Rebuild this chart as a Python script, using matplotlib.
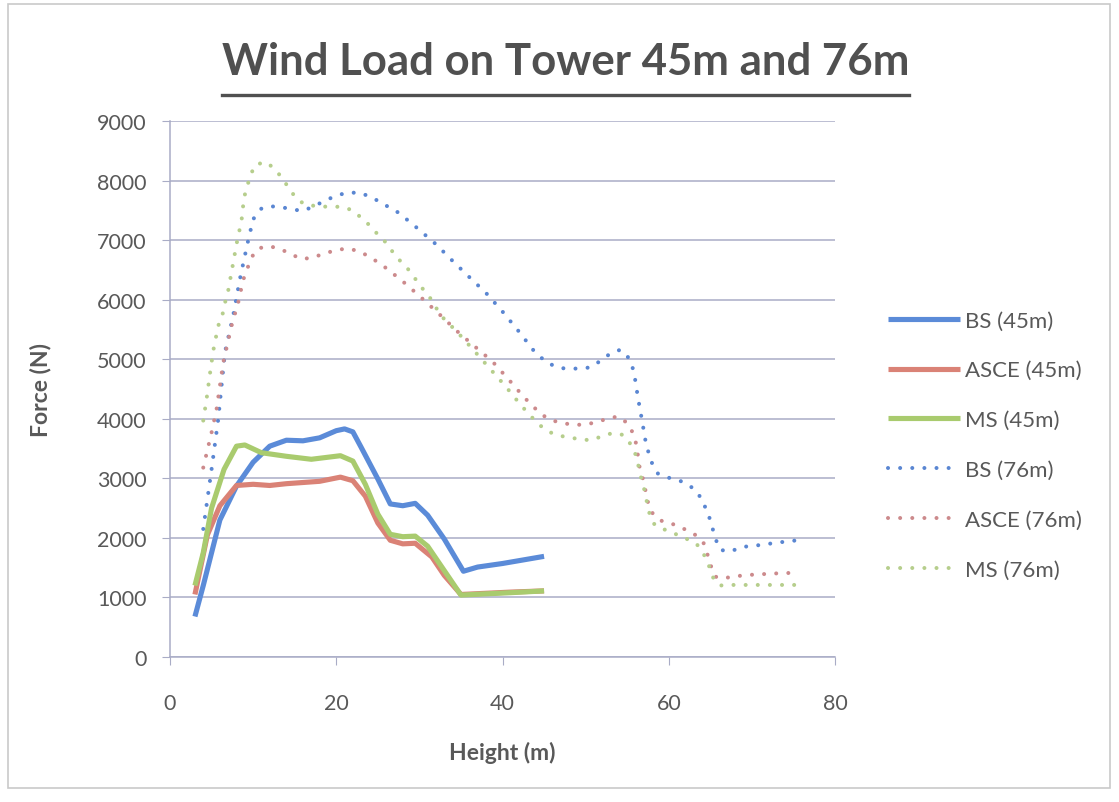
import matplotlib
matplotlib.use('Agg')
import matplotlib.pyplot as plt
from matplotlib.patches import Rectangle
from matplotlib.lines import Line2D

# dados (altura em m, forca em N)
h_bs45 = [3, 4, 5, 6, 8, 10, 12, 14, 16, 18, 20, 21, 22, 23, 25, 26.5, 28, 29.5, 31, 33, 35.3, 37, 40, 45]
f_bs45 = [680, 1200, 1750, 2300, 2870, 3270, 3540, 3640, 3630, 3680, 3800, 3830, 3780, 3520, 2990, 2570,
          2540, 2580, 2380, 1980, 1440, 1510, 1570, 1690]

h_asce45 = [3, 4.5, 6, 8, 10, 12, 14, 16, 18, 20.5, 22, 23.5, 25, 26.5, 28, 29.5, 31.5, 33, 35, 38, 41, 45]
f_asce45 = [1050, 2050, 2540, 2880, 2900, 2880, 2910, 2930, 2950, 3020, 2960, 2700, 2250, 1960, 1900, 1910,
            1680, 1370, 1050, 1070, 1090, 1110]

h_ms45 = [3, 4, 5, 6.5, 8, 9, 11, 14, 17, 20.5, 22, 23.5, 25, 26.5, 28, 29.5, 31, 33, 35, 38, 41, 45]
f_ms45 = [1200, 1750, 2500, 3150, 3540, 3560, 3430, 3370, 3320, 3380, 3290, 2900, 2400, 2060, 2020, 2030,
          1860, 1450, 1040, 1060, 1080, 1110]

h_bs76 = [4, 5, 5.8, 6.6, 7.6, 8.4, 9.3, 10, 11, 12, 13.5, 15, 16, 17, 18.5, 20, 21.5, 23, 24.5, 26,
          27.5, 29.5, 32, 34, 36, 38, 40, 42, 44, 45.5, 47, 48.5, 50.5, 52, 53, 54.2, 55.2, 55.8, 56.3, 56.8,
          57.3, 58, 58.7, 60, 61.5, 63, 64, 65, 65.6, 66.2, 67.3, 69, 71, 73, 75.5]
f_bs76 = [2150, 3150, 3990, 5110, 5730, 6340, 6930, 7350, 7530, 7570, 7550, 7510, 7490, 7550, 7650, 7750,
          7800, 7790, 7700, 7580, 7460, 7230, 6930, 6650, 6380, 6115, 5800, 5460, 5100, 4930, 4850, 4840,
          4860, 4990, 5100, 5160, 5020, 4800, 4350, 3960, 3550, 3250, 3080, 3010, 2950, 2830, 2650, 2300,
          1990, 1800, 1770, 1850, 1880, 1920, 1960]

h_asce76 = [4, 5, 5.6, 6.4, 7.4, 8.2, 8.8, 9.8, 10.6, 11.9, 13.3, 14.6, 15.9, 17.2, 18.5, 19.9, 21.3, 22.6,
            23.9, 25.1, 26.2, 28.4, 30.5, 32.6, 34.7, 36.7, 38.8, 40.8, 42.6, 44.6, 45.8, 47.1, 48.5, 49.9,
            51.2, 52.6, 53.9, 55, 55.7, 56.1, 56.5, 56.9, 57.5, 58.1, 59.3, 60.8, 62, 63.2, 64.2, 64.6, 65,
            65.5, 66, 67.3, 68.6, 70, 71.4, 72.8, 74.1, 75.5]
f_asce76 = [3180, 3770, 4160, 4940, 5560, 5950, 6330, 6710, 6860, 6900, 6850, 6760, 6680, 6710, 6770, 6830,
            6860, 6820, 6730, 6620, 6510, 6260, 6000, 5730, 5450, 5210, 4960, 4650, 4360, 4080, 3980, 3930,
            3900, 3900, 3940, 4000, 4040, 3930, 3760, 3570, 3180, 2990, 2600, 2400, 2270, 2220, 2140, 2050,
            1910, 1750, 1560, 1360, 1325, 1336, 1364, 1381, 1392, 1403, 1408, 1420]

h_ms76 = [4, 4.4, 4.8, 5.2, 5.8, 6.3, 6.6, 7.0, 7.5, 8.0, 8.3, 8.6, 8.9, 9.3, 9.7, 10.3, 11.6, 12.7, 13.6,
          14.4, 15.2, 16.2, 17.6, 19, 20.5, 21.8, 22.9, 24, 24.9, 25.9, 26.8, 27.7, 28.6, 29.4, 30.3, 31.2,
          32.6, 34.6, 36.6, 38.5, 40.4, 42.2, 44.1, 45.2, 46.4, 47.8, 49.2, 50.5, 51.9, 53.2, 54.5, 55.5,
          56.1, 56.7, 57.1, 57.4, 57.7, 58.3, 59.5, 60.9, 62.2, 63.4, 64.2, 64.8, 65.2, 66.1, 67.5, 70,
          72.5, 75.8]
f_ms76 = [3970, 4330, 4750, 5140, 5560, 5740, 5940, 6150, 6540, 6930, 7130, 7320, 7710, 7910, 8100, 8270,
          8310, 8180, 8020, 7850, 7700, 7600, 7570, 7560, 7560, 7510, 7390, 7250, 7110, 6970, 6800, 6650,
          6520, 6370, 6200, 6050, 5730, 5450, 5140, 4840, 4540, 4230, 3940, 3810, 3730, 3690, 3660, 3640,
          3700, 3760, 3730, 3560, 3370, 2990, 2790, 2580, 2400, 2220, 2140, 2060, 1980, 1890, 1730, 1550,
          1360, 1200, 1210, 1210, 1210, 1210]

x_ticks = [0, 20, 40, 60, 80]
y_ticks = [0, 1000, 2000, 3000, 4000, 5000, 6000, 7000, 8000, 9000]

plt.rcParams['font.family'] = ['Lato', 'DejaVu Sans']
cor_texto = '#595959'
cor_grade = '#A9ACC6'

fig = plt.figure(figsize=(11.19, 8.03), dpi=100)
fig.patches.append(Rectangle((8 / 1119, 1 - 789 / 803), 1102 / 1119, 784 / 803,
                             transform=fig.transFigure, fill=False, edgecolor='#C9C9C9', linewidth=1.2))

ax = fig.add_axes([170 / 1119, 1 - 658 / 803, 665 / 1119, 536 / 803])

# linhas solidas (torre 45m)
ax.plot(h_bs45, f_bs45, color='#5B8BD8', lw=3.7, solid_joinstyle='round', solid_capstyle='butt', label='BS (45m)')
ax.plot(h_asce45, f_asce45, color='#DA8276', lw=3.7, solid_joinstyle='round', solid_capstyle='butt', label='ASCE (45m)')
ax.plot(h_ms45, f_ms45, color='#A9CB6E', lw=3.7, solid_joinstyle='round', solid_capstyle='butt', label='MS (45m)')

# linhas pontilhadas (torre 76m)
pontos = (0, (0.01, 3.0))
ax.plot(h_bs76, f_bs76, color='#5A86D2', lw=2.9, linestyle=pontos, dash_capstyle='round', label='BS (76m)')
ax.plot(h_asce76, f_asce76, color='#CC8A8C', lw=2.9, linestyle=pontos, dash_capstyle='round', label='ASCE (76m)')
ax.plot(h_ms76, f_ms76, color='#B6CE8C', lw=2.9, linestyle=pontos, dash_capstyle='round', label='MS (76m)')

ax.set_xlim(0, 80)
ax.set_ylim(0, 9000)
ax.set_xticks(x_ticks)
ax.set_yticks(y_ticks)
ax.grid(axis='y', color=cor_grade, linewidth=1.1)
ax.set_axisbelow(True)
for lado in ['top', 'right']:
    ax.spines[lado].set_visible(False)
for lado in ['left', 'bottom']:
    ax.spines[lado].set_color(cor_grade)
    ax.spines[lado].set_linewidth(1.1)
ax.tick_params(axis='x', direction='out', length=6, color=cor_grade, labelsize=15.5, labelcolor=cor_texto, pad=20)
ax.tick_params(axis='y', direction='out', length=6, color=cor_grade, labelsize=15.5, labelcolor=cor_texto, pad=11)

ax.set_xlabel('Height (m)', fontsize=16.5, fontweight='bold', color=cor_texto)
ax.set_ylabel('Force (N)', fontsize=16.5, fontweight='bold', color=cor_texto)
ax.xaxis.set_label_coords(0.5, -0.157)
ax.yaxis.set_label_coords(-0.178, 0.5)

leg = fig.legend(loc='center left', bbox_to_anchor=(868 / 1119, 1 - 446 / 803), frameon=False,
                 fontsize=16, handlelength=3.25, handletextpad=0.22, labelspacing=1.34)
for t in leg.get_texts():
    t.set_color(cor_texto)

titulo = fig.text(0.5055, 1 - 62 / 803, 'Wind Load on Tower 45m and 76m', ha='center', va='center',
                  fontsize=31.5, fontweight='bold', color='#505050')

# sublinhado do titulo
fig.canvas.draw()
bb = titulo.get_window_extent(fig.canvas.get_renderer())
y_sub = 1 - 96 / 803
fig.add_artist(Line2D([bb.x0 / 1119, bb.x1 / 1119], [y_sub, y_sub], transform=fig.transFigure,
                      color='#505050', linewidth=2.4))

fig.savefig('out.png', dpi=100)
